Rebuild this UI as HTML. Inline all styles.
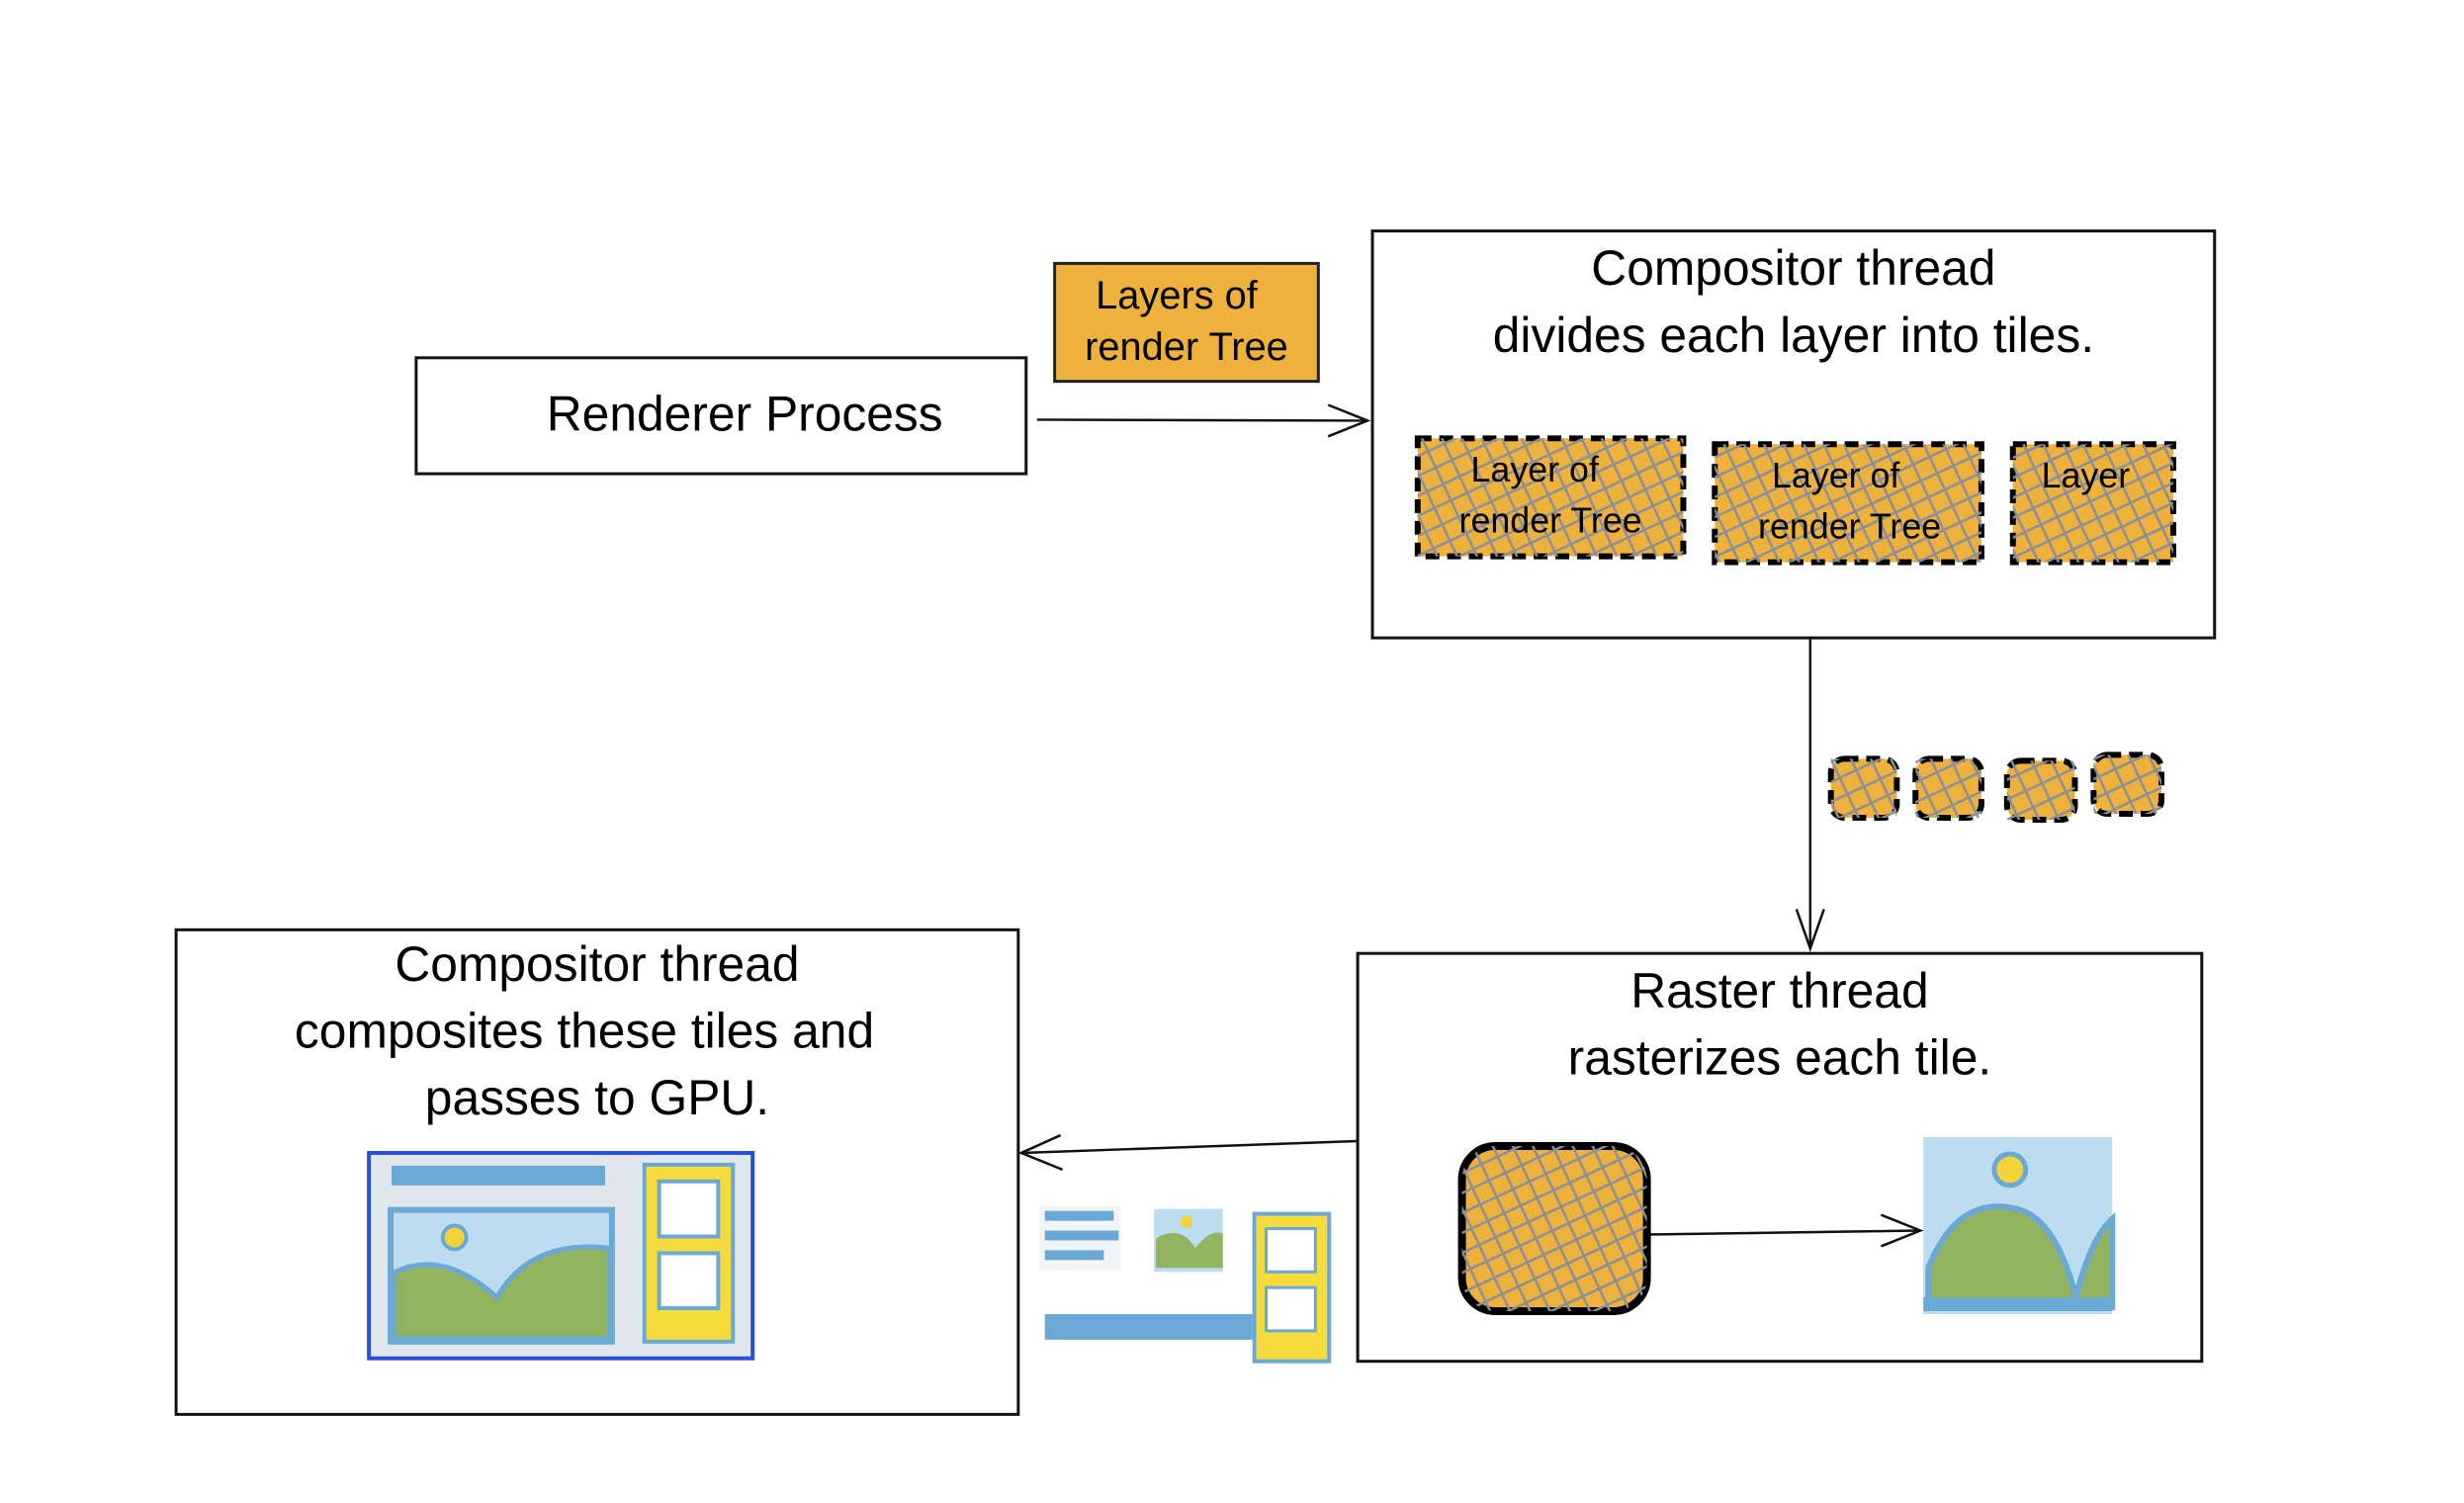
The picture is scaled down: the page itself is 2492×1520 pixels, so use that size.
<!DOCTYPE html>
<html><head><meta charset="utf-8"><style>
html,body{margin:0;padding:0;background:#fff}
svg{display:block}
text{font-family:"Liberation Sans",sans-serif;fill:#000}
</style></head><body>
<svg width="2492" height="1520" viewBox="0 0 2492 1520" xmlns="http://www.w3.org/2000/svg">
<defs>
<pattern id="h" width="26" height="26" patternUnits="userSpaceOnUse" patternTransform="rotate(20)">
<path d="M0 0L26 26M26 0L0 26" stroke="#8a8f99" stroke-width="2.5"/>
</pattern>
</defs>
<rect width="2492" height="1520" fill="#fff"/>
<g transform="scale(0.995 0.994)">
<g fill="none" stroke="#111" stroke-width="3">
<rect x="423" y="364" width="620" height="118"/>
<rect x="1395" y="235" width="856" height="414"/>
<rect x="1380" y="970" width="858" height="415"/>
<rect x="179" y="946" width="856" height="493"/>
</g>
<text x="757" y="438" font-size="50" text-anchor="middle">Renderer Process</text>
<rect x="1072" y="268" width="268" height="120" fill="#eeb13c" stroke="#222" stroke-width="3"/>
<text x="1196" y="314" font-size="40" text-anchor="middle">Layers of</text>
<text x="1206" y="366" font-size="40" text-anchor="middle">render Tree</text>
<g stroke="#111" stroke-width="2.5" fill="none">
<path d="M1054 427L1390 428M1350 412L1390 428L1350 444"/>
<path d="M1840 649V965M1826 925L1840 965L1854 925"/>
<path d="M1380 1161L1038 1173M1078 1155L1038 1173L1080 1190"/>
<path d="M1674 1256L1952 1252M1912 1236L1952 1252L1912 1268"/>
</g>
<text x="1823" y="290" font-size="50" text-anchor="middle">Compositor thread</text>
<text x="1823" y="358" font-size="50" text-anchor="middle">divides each layer into tiles.</text>
<g stroke="#000" stroke-width="6" stroke-dasharray="14 8">
<rect x="1441" y="446" width="270" height="120" fill="#eeb13c"/>
<rect x="1743" y="452" width="271" height="120" fill="#eeb13c"/>
<rect x="2046" y="452" width="163" height="120" fill="#eeb13c"/>
<rect x="1861" y="772" width="67" height="60" rx="14" fill="#eeb13c"/>
<rect x="1947" y="772" width="67" height="60" rx="14" fill="#eeb13c"/>
<rect x="2040" y="774" width="69" height="60" rx="14" fill="#eeb13c"/>
<rect x="2128" y="768" width="69" height="60" rx="14" fill="#eeb13c"/>
</g>
<g fill="url(#h)">
<rect x="1441" y="446" width="270" height="120"/>
<rect x="1743" y="452" width="271" height="120"/>
<rect x="2046" y="452" width="163" height="120"/>
<rect x="1861" y="772" width="67" height="60"/>
<rect x="1947" y="772" width="67" height="60"/>
<rect x="2040" y="774" width="69" height="60"/>
<rect x="2128" y="768" width="69" height="60"/>
</g>
<text x="1560" y="490" font-size="36" text-anchor="middle">Layer of</text>
<text x="1576" y="542" font-size="36" text-anchor="middle">render Tree</text>
<text x="1866" y="496" font-size="36" text-anchor="middle">Layer of</text>
<text x="1880" y="548" font-size="36" text-anchor="middle">render Tree</text>
<text x="2120" y="496" font-size="36" text-anchor="middle">Layer</text>
<text x="1809" y="1025" font-size="50" text-anchor="middle">Raster thread</text>
<text x="1809" y="1093" font-size="50" text-anchor="middle">rasterizes each tile.</text>
<rect x="1486" y="1166" width="188" height="168" rx="34" fill="#eeb13c" stroke="#000" stroke-width="8"/>
<rect x="1486" y="1166" width="188" height="168" rx="34" fill="url(#h)"/>
<rect x="1955" y="1157" width="192" height="180" fill="#bcdcf0"/>
<path d="M1960 1330V1290Q1990 1215 2050 1230Q2090 1240 2110 1320Q2125 1260 2147 1240V1330Z" fill="#92b35f" stroke="#6aa9d6" stroke-width="6"/>
<circle cx="2043" cy="1190" r="16" fill="#f2d43a" stroke="#6aa9d6" stroke-width="5"/>
<rect x="1955" y="1320" width="192" height="14" fill="#6aa9d6"/>
<text x="607" y="998" font-size="50" text-anchor="middle">Compositor thread</text>
<text x="594" y="1066" font-size="50" text-anchor="middle">composites these tiles and</text>
<text x="607" y="1134" font-size="50" text-anchor="middle">passes to GPU.</text>
<rect x="375" y="1173" width="390" height="209" fill="#dfe6ec" stroke="#2650d8" stroke-width="4"/>
<rect x="398" y="1186" width="217" height="20" fill="#6aa9d6"/>
<rect x="397" y="1231" width="225" height="134" fill="#bcdcf0" stroke="#6aa9d6" stroke-width="6"/>
<path d="M400 1362V1295Q450 1270 505 1320Q540 1260 620 1270V1362Z" fill="#92b35f" stroke="#6aa9d6" stroke-width="5"/>
<circle cx="462" cy="1259" r="12" fill="#f2d43a" stroke="#6aa9d6" stroke-width="4"/>
<rect x="655" y="1185" width="90" height="180" fill="#f5dc3c" stroke="#6aa9d6" stroke-width="4"/>
<rect x="670" y="1202" width="60" height="56" fill="#fff" stroke="#6aa9d6" stroke-width="4"/>
<rect x="670" y="1275" width="60" height="56" fill="#fff" stroke="#6aa9d6" stroke-width="4"/>
<rect x="1056" y="1227" width="83" height="65" fill="#f2f4f6"/>
<rect x="1062" y="1232" width="70" height="10" fill="#6aa9d6"/>
<rect x="1062" y="1252" width="75" height="10" fill="#6aa9d6"/>
<rect x="1062" y="1272" width="60" height="10" fill="#6aa9d6"/>
<rect x="1173" y="1230" width="70" height="64" fill="#bcdcf0"/>
<path d="M1175 1290V1260Q1200 1245 1215 1270Q1230 1250 1243 1255V1290Z" fill="#92b35f"/>
<circle cx="1206" cy="1243" r="6" fill="#f2d43a"/>
<rect x="1275" y="1235" width="76" height="150" fill="#f5dc3c" stroke="#6aa9d6" stroke-width="4"/>
<rect x="1287" y="1250" width="50" height="44" fill="#fff" stroke="#6aa9d6" stroke-width="3"/>
<rect x="1287" y="1310" width="50" height="44" fill="#fff" stroke="#6aa9d6" stroke-width="3"/>
<rect x="1062" y="1337" width="211" height="26" fill="#6aa9d6"/>
</g>
</svg>
</body></html>
